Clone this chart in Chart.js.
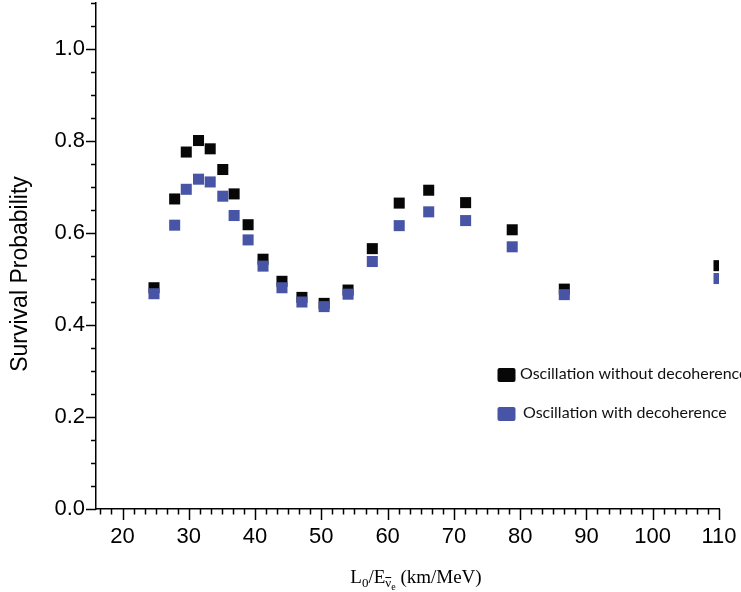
<!DOCTYPE html>
<html><head><meta charset="utf-8">
<script src="https://cdn.jsdelivr.net/npm/chart.js@4.4.1/dist/chart.umd.min.js"></script>
<style>html,body{margin:0;padding:0;background:#fff;}canvas{display:block;}</style>
</head><body>
<canvas id="c" width="741" height="592"></canvas>
<script>
// ---- data ----
const xValues = [24.75, 27.87, 29.62, 31.47, 33.23, 35.13, 36.84, 38.95, 41.2, 44.06, 47.07, 50.42, 54.03, 57.69, 61.75, 66.2, 71.77, 78.8, 86.66, 110];
const withoutDecoherence = [0.481, 0.674, 0.776, 0.801, 0.783, 0.738, 0.685, 0.618, 0.543, 0.495, 0.460, 0.447, 0.476, 0.566, 0.665, 0.693, 0.666, 0.607, 0.478, 0.529];
const withDecoherence = [0.468, 0.617, 0.695, 0.717, 0.711, 0.680, 0.638, 0.585, 0.528, 0.481, 0.450, 0.440, 0.467, 0.538, 0.616, 0.646, 0.627, 0.570, 0.466, 0.501];
const xTickLabels = [20, 30, 40, 50, 60, 70, 80, 90, 100, 110];
const yTickLabels = [0.0, 0.2, 0.4, 0.6, 0.8, 1.0];
const seriesNames = ['Oscillation without decoherence', 'Oscillation with decoherence'];
const yAxisTitle = 'Survival Probability';

const BLACK = '#070707';
const BLUE = 'rgb(72,84,166)';

function pts(ys) { return xValues.map((x, i) => ({ x: x, y: ys[i] })); }
function noPad(s) { s.paddingTop = 0; s.paddingBottom = 0; s.paddingLeft = 0; s.paddingRight = 0; }

const decor = {
  id: 'decor',
  afterDraw(chart) {
    const ctx = chart.ctx;
    const xs = chart.scales.x, ys = chart.scales.y;
    const ca = chart.chartArea;
    ctx.save();
    ctx.strokeStyle = '#000';
    ctx.lineWidth = 1.5;
    // x ticks: major each 10, minor each 10/6
    for (let k = -2; k <= 54; k++) {
      const v = 20 + k * 10 / 6;
      if (v < xs.min - 1e-6 || v > xs.max + 1e-6) continue;
      const major = k % 6 === 0;
      const px = Math.round(xs.getPixelForValue(v)) + 0.5;
      ctx.beginPath();
      ctx.moveTo(px, ca.bottom);
      ctx.lineTo(px, ca.bottom + (major ? 11 : 5.5));
      ctx.stroke();
    }
    // y ticks: major each 0.2, minor each 0.05
    for (let k = 0; k <= 22; k++) {
      const v = k * 0.05;
      const major = k % 4 === 0;
      const py = Math.round(ys.getPixelForValue(v)) + 0.5;
      ctx.beginPath();
      ctx.moveTo(ca.left, py);
      ctx.lineTo(ca.left - (major ? 10 : 5), py);
      ctx.stroke();
    }
    // y axis title
    ctx.fillStyle = '#000';
    ctx.font = '23px "Liberation Sans", Arial, sans-serif';
    ctx.textAlign = 'center';
    ctx.textBaseline = 'middle';
    ctx.translate(21, 274);
    ctx.rotate(-Math.PI / 2);
    ctx.fillText(yAxisTitle, 0, 0);
    ctx.setTransform(1, 0, 0, 1, 0, 0);

    // x axis title with subscripts
    const mainF = '19px "Liberation Serif", "Times New Roman", serif';
    const subF = '13px "Liberation Serif", "Times New Roman", serif';
    const subsubF = '10px "Liberation Serif", "Times New Roman", serif';
    const base = 583;
    const pieces = [
      ['L', mainF, 0], ['0', subF, 4], ['/E', mainF, 0], ['\u03BD', subF, 4, true], ['e', subsubF, 7], [' (km/MeV)', mainF, 0]
    ];
    ctx.textAlign = 'left';
    ctx.textBaseline = 'alphabetic';
    let total = 0;
    pieces.forEach(p => { ctx.font = p[1]; total += ctx.measureText(p[0]).width; });
    let x = 416 - total / 2;
    pieces.forEach(p => {
      ctx.font = p[1];
      const w = ctx.measureText(p[0]).width;
      ctx.fillText(p[0], x, base + p[2]);
      if (p[3]) {
        ctx.lineWidth = 1;
        ctx.beginPath();
        ctx.moveTo(x, base + p[2] - 9.5);
        ctx.lineTo(x + w, base + p[2] - 9.5);
        ctx.stroke();
      }
      x += w;
    });

    // legend
    const leg = [
      { c: BLACK, t: seriesNames[0], sy: 368, tx: 520, ty: 374 },
      { c: BLUE, t: seriesNames[1], sy: 407, tx: 523, ty: 413 }
    ];
    ctx.font = '16px Lato, "Open Sans", sans-serif';
    ctx.textBaseline = 'middle';
    leg.forEach(l => {
      ctx.fillStyle = l.c;
      ctx.beginPath();
      ctx.roundRect(497.5, l.sy, 18, 14, 2);
      ctx.fill();
      ctx.fillStyle = '#111';
      ctx.fillText(l.t, l.tx, l.ty);
    });
    ctx.restore();
  }
};

new Chart(document.getElementById('c'), {
  type: 'scatter',
  data: {
    datasets: [
      { label: seriesNames[0], data: pts(withoutDecoherence), backgroundColor: BLACK, borderColor: BLACK,
        pointStyle: 'rect', pointRadius: 7.8, pointHoverRadius: 7.8, pointBorderWidth: 0, order: 1, clip: 0 },
      { label: seriesNames[1], data: pts(withDecoherence), backgroundColor: BLUE, borderColor: BLUE,
        pointStyle: 'rect', pointRadius: 7.8, pointHoverRadius: 7.8, pointBorderWidth: 0, order: 0, clip: 0 }
    ]
  },
  options: {
    responsive: false,
    animation: false,
    devicePixelRatio: 1,
    events: [],
    layout: { padding: { left: 0, top: 3, right: 22, bottom: 0 }, autoPadding: false },
    plugins: { legend: { display: false }, tooltip: { enabled: false } },
    scales: {
      x: {
        type: 'linear', min: 16, max: 110,
        afterBuildTicks: s => { s.ticks = xTickLabels.map(v => ({ value: v })); },
        afterFit: s => { s.height = 83; noPad(s); },
        ticks: { padding: 15, autoSkip: false, maxRotation: 0, color: '#000',
          font: { family: '"Liberation Sans", Arial, sans-serif', size: 22 },
          callback: v => String(v) },
        grid: { display: false, drawTicks: false },
        border: { display: true, color: '#000', width: 1.5 }
      },
      y: {
        type: 'linear', min: 0, max: 1.1,
        afterBuildTicks: s => { s.ticks = yTickLabels.map(v => ({ value: v })); },
        afterFit: s => { s.width = 96; noPad(s); },
        ticks: { padding: 11, autoSkip: false, color: '#000',
          font: { family: '"Liberation Sans", Arial, sans-serif', size: 22 },
          callback: v => Number(v).toFixed(1) },
        grid: { display: false, drawTicks: false },
        border: { display: true, color: '#000', width: 1.5 }
      }
    }
  },
  plugins: [decor]
});
</script>
</body></html>
